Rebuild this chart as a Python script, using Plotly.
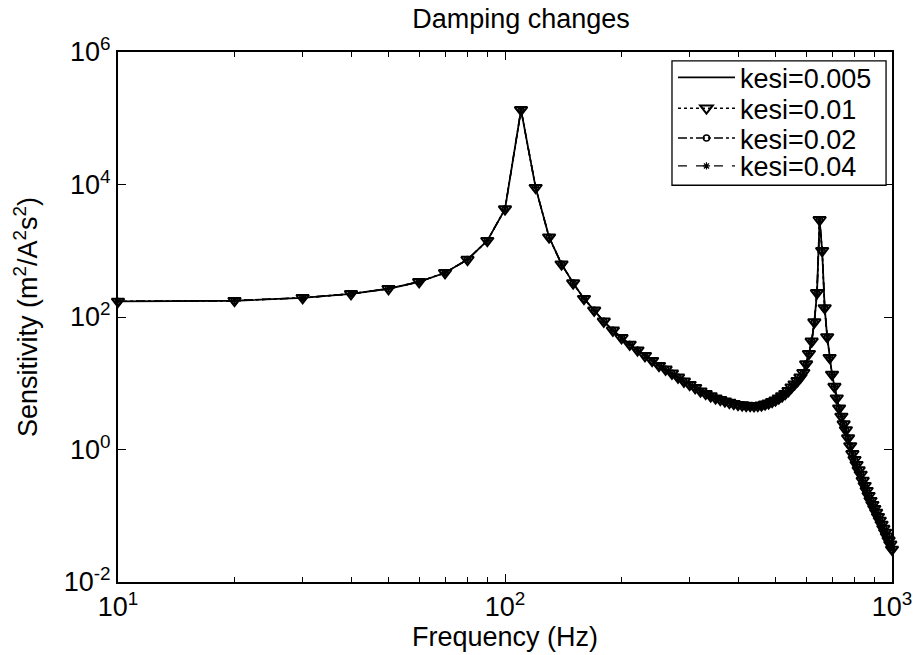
import plotly.graph_objects as go

# Frequency grid (Hz) and sensitivity readings for each damping ratio
freq_hz = list(range(10, 1001, 10))

sensitivity = [
    172, 176, 195, 224, 267, 340, 465, 735, 1420, 4250,
    134000, 8970, 1600, 627, 325, 189, 126, 86, 63, 48.5,
    38.5, 31.6, 26.0, 21.9, 18.4, 16.2, 14.1, 12.3, 10.7, 9.5,
    8.55, 7.6, 6.95, 6.4, 5.95, 5.65, 5.37, 5.1, 4.92, 4.75,
    4.68, 4.6, 4.58, 4.57, 4.58, 4.66, 4.84, 5.0, 5.28, 5.56,
    5.96, 6.4, 6.95, 7.7, 8.7, 9.7, 10.9, 12.3, 14.4, 19.5,
    28, 43, 84, 232, 2930, 1000, 137, 50, 24.3, 13.6,
    8.9, 5.95, 4.2, 3.16, 2.42, 1.97, 1.49, 1.13, 0.86, 0.70,
    0.59, 0.49, 0.42, 0.34, 0.284, 0.239, 0.201, 0.169, 0.147, 0.128,
    0.112, 0.097, 0.085, 0.074, 0.064, 0.056, 0.049, 0.0425, 0.037, 0.031,
]

# At a 10 Hz step the four damping cases give coincident curves
sens_kesi_0005 = list(sensitivity)
sens_kesi_001 = list(sensitivity)
sens_kesi_002 = list(sensitivity)
sens_kesi_004 = list(sensitivity)

series_names = ["kesi=0.005", "kesi=0.01", "kesi=0.02", "kesi=0.04"]
series_values = [sens_kesi_0005, sens_kesi_001, sens_kesi_002, sens_kesi_004]

x_ticks = [10, 100, 1000]
x_ticktext = ["10<sup>1</sup>", "10<sup>2</sup>", "10<sup>3</sup>"]
x_minor = [20, 30, 40, 50, 60, 70, 80, 90, 200, 300, 400, 500, 600, 700, 800, 900]
y_ticks = [1e-2, 1e0, 1e2, 1e4, 1e6]
y_ticktext = ["10<sup>-2</sup>", "10<sup>0</sup>", "10<sup>2</sup>", "10<sup>4</sup>", "10<sup>6</sup>"]

FONT = "Liberation Sans, Arial, sans-serif"
FS = 27

# Plot area in pixels, used to place the legend box
L, R, T, B = 118, 25, 52, 70
W, H = 924, 655
PW, PH = W - L - R, H - T - B


def px_to_paper_x(px):
    return (px - L) / PW


def px_to_paper_y(py):
    return 1 - (py - T) / PH


styles = [
    dict(mode="lines", line=dict(color="black", width=1.8, dash="solid"), marker=None),
    dict(mode="lines+markers", line=dict(color="black", width=1.4, dash="dot"),
         marker=dict(symbol="triangle-down-open", size=11, color="black",
                     line=dict(color="black", width=2))),
    dict(mode="lines+markers", line=dict(color="black", width=1.4, dash="dashdot"),
         marker=dict(symbol="circle-open", size=6, color="black",
                     line=dict(color="black", width=1.5))),
    dict(mode="lines+markers", line=dict(color="black", width=1.4, dash="dash"),
         marker=dict(symbol="asterisk-open", size=6, color="black",
                     line=dict(color="black", width=1.2))),
]

legend_ids = ["legend", "legend2", "legend3", "legend4"]
legend_rows_px = [78, 109, 139, 167]

fig = go.Figure()
for name, vals, st, lg in zip(series_names, series_values, styles, legend_ids):
    kw = dict(x=freq_hz, y=vals, name=name, mode=st["mode"], line=st["line"],
              legend=lg, cliponaxis=False)
    if st["marker"] is not None:
        kw["marker"] = st["marker"]
    fig.add_trace(go.Scatter(**kw))

# Legend frame
box_x0, box_x1, box_y0, box_y1 = 677, 893, 61, 186
fig.add_shape(type="rect", xref="paper", yref="paper",
              x0=px_to_paper_x(box_x0), x1=px_to_paper_x(box_x1),
              y0=px_to_paper_y(box_y1), y1=px_to_paper_y(box_y0),
              line=dict(color="black", width=1.3), fillcolor="white", layer="above")

legend_common = dict(xanchor="left", yanchor="middle", bgcolor="rgba(0,0,0,0)",
                     borderwidth=0, font=dict(family=FONT, size=FS, color="black"),
                     itemwidth=57, tracegroupgap=0)
legend_layout = {}
for lg, row in zip(legend_ids, legend_rows_px):
    legend_layout[lg] = dict(x=px_to_paper_x(box_x0 + 1), y=px_to_paper_y(row), **legend_common)

fig.update_layout(
    width=W, height=H,
    margin=dict(l=L, r=R, t=T, b=B),
    paper_bgcolor="white", plot_bgcolor="white",
    font=dict(family=FONT, size=FS, color="black"),
    title=dict(text="Damping changes", x=521 / W, xanchor="center",
               y=1 - 19 / H, yanchor="middle", yref="container",
               font=dict(family=FONT, size=FS, color="black")),
    showlegend=True,
    **legend_layout,
)

# Ticks point inwards and are repeated on the top and right edges of the box
fig.update_xaxes(
    type="log", range=[1, 3],
    tickmode="array", tickvals=x_ticks, ticktext=x_ticktext,
    ticks="inside", ticklen=8, tickwidth=1.3, tickcolor="black",
    minor=dict(tickmode="array", tickvals=x_minor, ticks="inside",
               ticklen=5, tickwidth=1.3, tickcolor="black", showgrid=False),
    showline=True, linecolor="black", linewidth=2, mirror="allticks",
    showgrid=False, zeroline=False,
    title=dict(text="Frequency (Hz)", standoff=2,
               font=dict(family=FONT, size=FS, color="black")),
)
fig.update_yaxes(
    type="log", range=[-2, 6],
    tickmode="array", tickvals=y_ticks, ticktext=y_ticktext,
    ticks="inside", ticklen=8, tickwidth=1.3, tickcolor="black",
    showline=True, linecolor="black", linewidth=2, mirror="allticks",
    showgrid=False, zeroline=False,
    title=dict(text="Sensitivity (m<sup>2</sup>/A<sup>2</sup>s<sup>2</sup>)", standoff=18,
               font=dict(family=FONT, size=FS, color="black")),
)

fig.write_html("out.html")
